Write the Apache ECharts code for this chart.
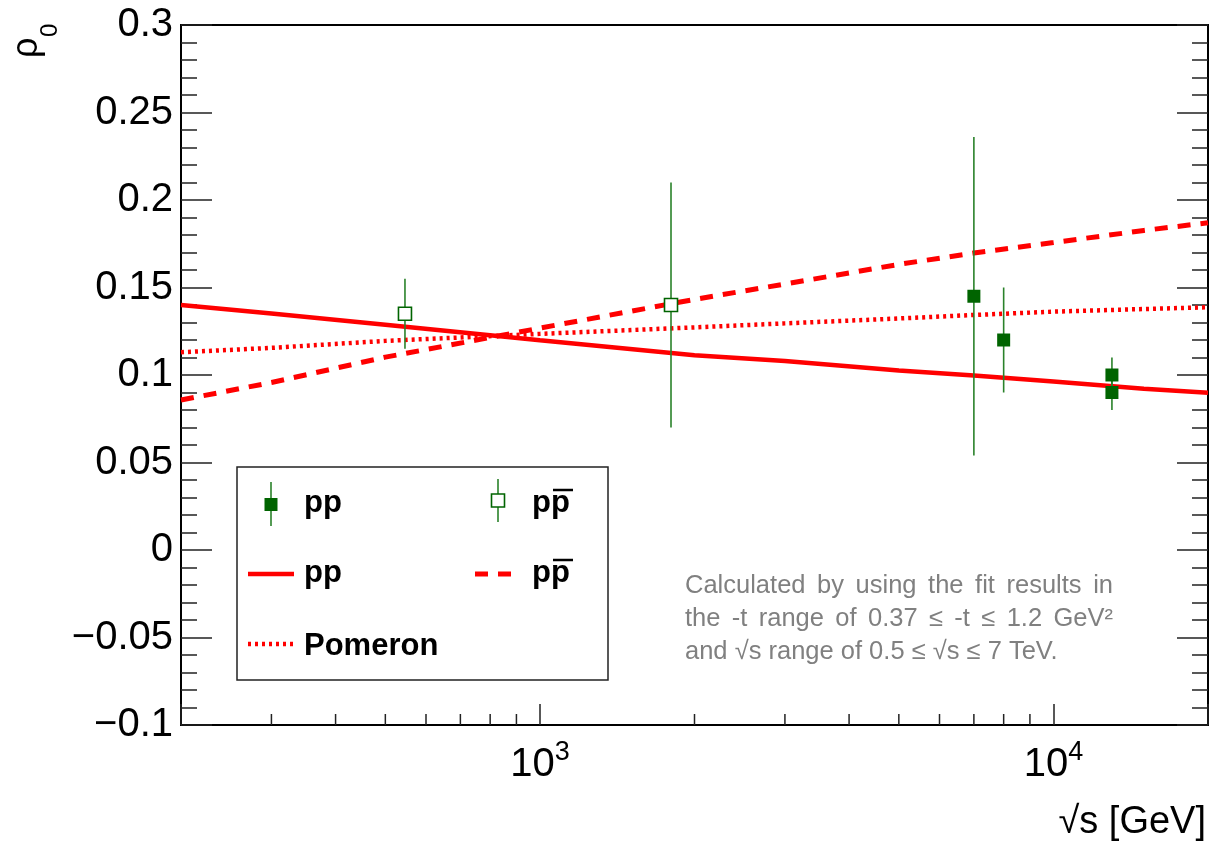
<!DOCTYPE html>
<html>
<head>
<meta charset="utf-8">
<script src="https://cdn.jsdelivr.net/npm/echarts@6/dist/echarts.min.js"></script>
<style>
  html, body { margin: 0; padding: 0; background: #fff; }
  #chart { width: 1211px; height: 843px; }
</style>
</head>
<body>
<div id="chart"></div>
<script>
// ---- data ----------------------------------------------------------------
// measured rho_0 points: sqrt(s) [GeV], value, symmetric error
const ppEnergy   = [7000, 8000, 13000, 13000];
const ppRho      = [0.145, 0.120, 0.100, 0.090];
const ppErr      = [0.091, 0.030, 0.010, 0.010];

const ppbarEnergy = [546, 1800];
const ppbarRho    = [0.135, 0.140];
const ppbarErr    = [0.020, 0.070];

// fitted curves, read at these sqrt(s) values
const curveEnergy = [200, 300, 500, 1000, 2000, 3000, 5000, 7000, 10000, 15000, 20000];
const curvePP     = [0.1400, 0.1351, 0.1287, 0.1199, 0.1113, 0.1080, 0.1026, 0.0997, 0.0963, 0.0922, 0.0899];
const curvePPbar  = [0.0857, 0.0957, 0.1102, 0.1268, 0.1432, 0.1520, 0.1632, 0.1697, 0.1757, 0.1826, 0.1870];
const curvePomeron= [0.1130, 0.1155, 0.1195, 0.1235, 0.1272, 0.1295, 0.1323, 0.1343, 0.1362, 0.1377, 0.1387];

// axis ranges and ticks
const xRange = [200, 20000];
const yRange = [-0.1, 0.3];
const yStep = 0.05;
const xMinorTicks = [300, 400, 500, 600, 700, 800, 900, 2000, 3000, 4000, 5000, 6000, 7000, 8000, 9000];

const annotationLines = [
  'Calculated by using the fit results in',
  'the -t range of 0.37 \u2264 -t \u2264 1.2 GeV\u00B2',
  'and \u221As range of 0.5 \u2264 \u221As \u2264 7 TeV.'
];

// ---- styles --------------------------------------------------------------
const FONT = '"Liberation Sans", Arial, Helvetica, sans-serif';
const RED = '#ff0000';
const GREEN_DARK = '#006400';
const GREEN_BAR = '#2a822a';

const chart = echarts.init(document.getElementById('chart'), null, { renderer: 'canvas' });

function zip3(xs, ys, es) {
  return xs.map((x, i) => [x, ys[i], ys[i] - es[i], ys[i] + es[i]]);
}
function pairs(xs, ys) { return xs.map((x, i) => [x, ys[i]]); }

function errorBarItem(params, api) {
  const x = api.value(0);
  const lo = api.coord([x, api.value(2)]);
  const hi = api.coord([x, api.value(3)]);
  return {
    type: 'line',
    shape: { x1: lo[0], y1: lo[1], x2: hi[0], y2: hi[1] },
    style: { stroke: GREEN_BAR, lineWidth: 1.6 }
  };
}

function yLabel(v) {
  const s = String(parseFloat(v.toFixed(2)));
  return s.replace('-', '\u2212');
}

function xLabel(v) {
  const e = Math.log10(v);
  if (Math.abs(e - Math.round(e)) > 1e-6) return '';
  if (v <= xRange[0] || v >= xRange[1]) return '';
  return '{b|10}{s|' + Math.round(e) + '}';
}

// word-justified text lines
const measureCtx = document.createElement('canvas').getContext('2d');
function textLine(str, x0, y, width, fontCss, color, justify) {
  if (!justify) {
    return [{ type: 'text', x: x0, y: y, silent: true,
      style: { text: str, font: fontCss, fill: color, textAlign: 'left', textVerticalAlign: 'bottom' } }];
  }
  measureCtx.font = fontCss;
  const words = str.split(' ');
  const ws = words.map(w => measureCtx.measureText(w).width);
  const total = ws.reduce((a, b) => a + b, 0);
  const gap = (width - total) / (words.length - 1);
  let x = x0;
  return words.map((w, i) => {
    const el = { type: 'text', x: x, y: y, silent: true,
      style: { text: w, font: fontCss, fill: color, textAlign: 'left', textVerticalAlign: 'bottom' } };
    x += ws[i] + gap;
    return el;
  });
}

const annFont = '25.5px ' + FONT;
const annotation = [].concat(
  textLine(annotationLines[0], 685, 599, 428, annFont, '#808080', true),
  textLine(annotationLines[1], 685, 632, 428, annFont, '#808080', true),
  textLine(annotationLines[2], 685, 665, 0, annFont, '#808080', false)
);

// legend drawn as a framed box
const legFont = 'bold 31px ' + FONT;
function legText(str, x, y) {
  return { type: 'text', x: x, y: y, silent: true,
    style: { text: str, font: legFont, fill: '#000', textAlign: 'left', textVerticalAlign: 'middle' } };
}
function overline(x1, x2, y) {
  return { type: 'line', silent: true, shape: { x1: x1, y1: y, x2: x2, y2: y },
    style: { stroke: '#000', lineWidth: 2.5 } };
}
const legend = [
  { type: 'rect', silent: true, shape: { x: 237, y: 467, width: 371, height: 213 },
    style: { fill: '#fff', stroke: '#222', lineWidth: 1.5 }, z: 10 },
  // row 1: data markers
  { type: 'line', silent: true, shape: { x1: 271, y1: 482, x2: 271, y2: 526 }, style: { stroke: GREEN_BAR, lineWidth: 1.6 }, z: 11 },
  { type: 'rect', silent: true, shape: { x: 264.5, y: 498, width: 13, height: 13 }, style: { fill: GREEN_DARK }, z: 12 },
  legText('pp', 304, 503),
  { type: 'line', silent: true, shape: { x1: 498, y1: 479, x2: 498, y2: 522 }, style: { stroke: GREEN_BAR, lineWidth: 1.6 }, z: 11 },
  { type: 'rect', silent: true, shape: { x: 491.5, y: 494, width: 13, height: 13 }, style: { fill: '#fff', stroke: GREEN_DARK, lineWidth: 1.6 }, z: 12 },
  legText('pp', 532, 503),
  overline(553, 573, 490),
  // row 2: fitted curves
  { type: 'line', silent: true, shape: { x1: 248, y1: 574, x2: 294, y2: 574 }, style: { stroke: RED, lineWidth: 4.5 }, z: 11 },
  legText('pp', 304, 573),
  { type: 'line', silent: true, shape: { x1: 475, y1: 574, x2: 511, y2: 574 }, style: { stroke: RED, lineWidth: 5, lineDash: [13, 10] }, z: 11 },
  legText('pp', 532, 573),
  overline(553, 573, 560),
  // row 3: pomeron
  { type: 'line', silent: true, shape: { x1: 248, y1: 644, x2: 294, y2: 644 }, style: { stroke: RED, lineWidth: 4.5, lineDash: [3, 4] }, z: 11 },
  legText('Pomeron', 304, 646)
].map(e => Object.assign({ z: 11 }, e));

// axis titles
const titles = [
  { type: 'group', x: 45, y: 58, rotation: Math.PI / 2, silent: true, children: [
    { type: 'text', x: 0, y: 0, style: { text: '\u03C1', font: '36px ' + FONT, fill: '#000', textAlign: 'left', textVerticalAlign: 'bottom' } },
    { type: 'text', x: 21, y: 17, style: { text: '0', font: '24px ' + FONT, fill: '#000', textAlign: 'left', textVerticalAlign: 'bottom' } }
  ] },
  { type: 'text', x: 1206, y: 842, silent: true,
    style: { text: '\u221As [GeV]', font: '38px ' + FONT, fill: '#000', textAlign: 'right', textVerticalAlign: 'bottom' } }
];

const yAxisBase = {
  type: 'value', min: yRange[0], max: yRange[1], interval: yStep,
  splitLine: { show: false },
  axisLine: { show: true, onZero: false, lineStyle: { color: '#000', width: 2 } },
  axisTick: { show: true, inside: true, length: 31, lineStyle: { color: '#222', width: 1.5 } },
  minorTick: { show: true, splitNumber: 5, length: 16, lineStyle: { color: '#222', width: 1.5 } }
};

const option = {
  animation: false,
  backgroundColor: '#fff',
  grid: { left: 181, right: 3, top: 25, bottom: 118, show: true, borderColor: '#000', borderWidth: 2,
          containLabel: false, outerBoundsMode: 'none' },
  xAxis: [{
    type: 'log', logBase: 10, min: xRange[0], max: xRange[1], position: 'bottom',
    splitLine: { show: false },
    axisLine: { show: true, onZero: false, lineStyle: { color: '#000', width: 2 } },
    axisTick: { show: true, inside: true, length: 21, lineStyle: { color: '#222', width: 1.5 } },
    axisLabel: {
      show: true, margin: 14, formatter: xLabel, hideOverlap: false,
      rich: {
        b: { fontFamily: FONT, fontSize: 40, color: '#000', lineHeight: 46, verticalAlign: 'bottom' },
        s: { fontFamily: FONT, fontSize: 27, color: '#000', lineHeight: 27, verticalAlign: 'top' }
      }
    }
  }],
  yAxis: [
    Object.assign({}, yAxisBase, { position: 'left',
      axisLabel: { show: true, margin: 8, fontFamily: FONT, fontSize: 40, color: '#000', formatter: yLabel } }),
    Object.assign({}, yAxisBase, { position: 'right', axisLabel: { show: false } })
  ],
  graphic: { elements: [].concat(annotation, legend, titles) },
  series: [
    { type: 'custom', name: 'xminor', coordinateSystem: 'cartesian2d', silent: true, clip: false, z: 1,
      data: xMinorTicks.map(v => [v, yRange[0]]), encode: { x: 0, y: 1 },
      renderItem: (params, api) => {
        const p = api.coord([api.value(0), api.value(1)]);
        return { type: 'line', shape: { x1: p[0], y1: p[1], x2: p[0], y2: p[1] - 11 },
                 style: { stroke: '#222', lineWidth: 1.5 } };
      } },
    { type: 'line', name: 'pp fit', data: pairs(curveEnergy, curvePP), showSymbol: false, z: 3,
      lineStyle: { color: RED, width: 4.5 } },
    { type: 'line', name: 'ppbar fit', data: pairs(curveEnergy, curvePPbar), showSymbol: false, z: 3,
      lineStyle: { color: RED, width: 5, type: [13, 10], cap: 'butt' } },
    { type: 'line', name: 'Pomeron', data: pairs(curveEnergy, curvePomeron), showSymbol: false, z: 3,
      lineStyle: { color: RED, width: 4.5, type: [3, 4], cap: 'butt' } },
    { type: 'custom', name: 'pp err', data: zip3(ppEnergy, ppRho, ppErr), encode: { x: 0, y: [1, 2, 3] },
      renderItem: errorBarItem, z: 4, silent: true },
    { type: 'custom', name: 'ppbar err', data: zip3(ppbarEnergy, ppbarRho, ppbarErr), encode: { x: 0, y: [1, 2, 3] },
      renderItem: errorBarItem, z: 4, silent: true },
    { type: 'scatter', name: 'pp', data: pairs(ppEnergy, ppRho), symbol: 'rect', symbolSize: 13, z: 5,
      itemStyle: { color: GREEN_DARK, opacity: 1 } },
    { type: 'scatter', name: 'ppbar', data: pairs(ppbarEnergy, ppbarRho), symbol: 'rect', symbolSize: 13, z: 5,
      itemStyle: { color: '#fff', borderColor: GREEN_DARK, borderWidth: 1.6, opacity: 1 } }
  ]
};

chart.setOption(option);
</script>
</body>
</html>
